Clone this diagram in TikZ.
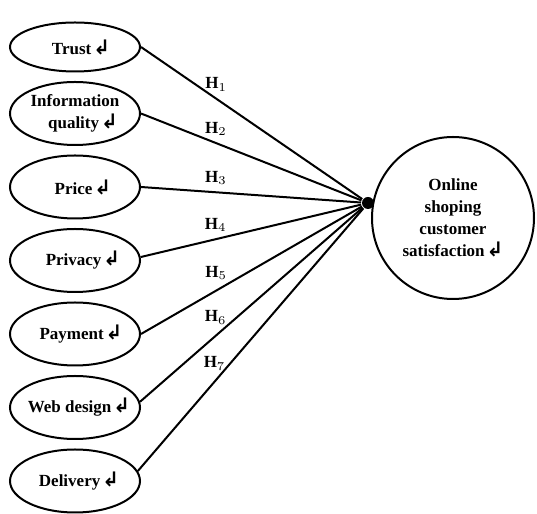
\documentclass[tikz,border=0pt]{standalone}
\usepackage{fontspec}
\setmainfont{Liberation Serif}
\newfontfamily\arrowfont{DejaVu Sans}
\usetikzlibrary{shapes,positioning}
\newcommand{\pmark}{\hspace{1pt}{\arrowfont\bfseries\fontsize{10}{10}\selectfont ↲}}

\begin{document}
\begin{tikzpicture}[x=0.5pt,y=0.5pt,node distance=4.25pt and 1cm,line width=1pt,
  every node/.style={font=\fontsize{8.5}{11}\selectfont\bfseries},
  factor/.style={draw,ellipse,minimum width=65pt,minimum height=31.5pt,inner sep=0pt,align=center}]
\useasboundingbox (0,0) rectangle (537,514);
\node[factor,minimum height=24.5pt](trust) at (75,467){\hspace{6pt}Trust\pmark};
\node[factor,below=of trust](info){Information\\\hspace{8pt}quality\pmark};
\node[factor,below=of info](price){\hspace{8pt}Price\pmark};
\node[factor,below=of price](privacy){\hspace{8pt}Privacy\pmark};
\node[factor,below=of privacy,inner xsep=-3pt](payment){\hspace{6pt}Payment\pmark};
\node[factor,below=of payment,inner xsep=-7pt](web){\hspace{4pt}Web design\pmark};
\node[factor,below=of web](delivery){\hspace{4pt}Delivery\pmark};
\node[circle,fill,minimum size=6pt,inner sep=0pt](hub) at (368,311){};
\node[draw,circle,minimum size=81pt,inner sep=0pt,align=center](sat) at (453,296){Online\\shoping\\customer\\satisfaction\pmark};
\draw (trust.east)--node[pos=0.34,above](h1){H$_1$}(hub);
\draw (info.east)--node[pos=0.34,above](h2){H$_2$}(hub);
\draw (price.east)--node[pos=0.34,above](h3){H$_3$}(hub);
\draw (privacy.3)--node[pos=0.34,above](h4){H$_4$}(hub);
\draw (payment.east)--node[pos=0.34,above=1.5pt](h5){H$_5$}(hub);
\draw (web.5)--node[pos=0.34,above=2pt](h6){H$_6$}(hub);
\draw (delivery.9)--node[pos=0.34,above=2pt](h7){H$_7$}(hub);
\end{tikzpicture}
\end{document}
